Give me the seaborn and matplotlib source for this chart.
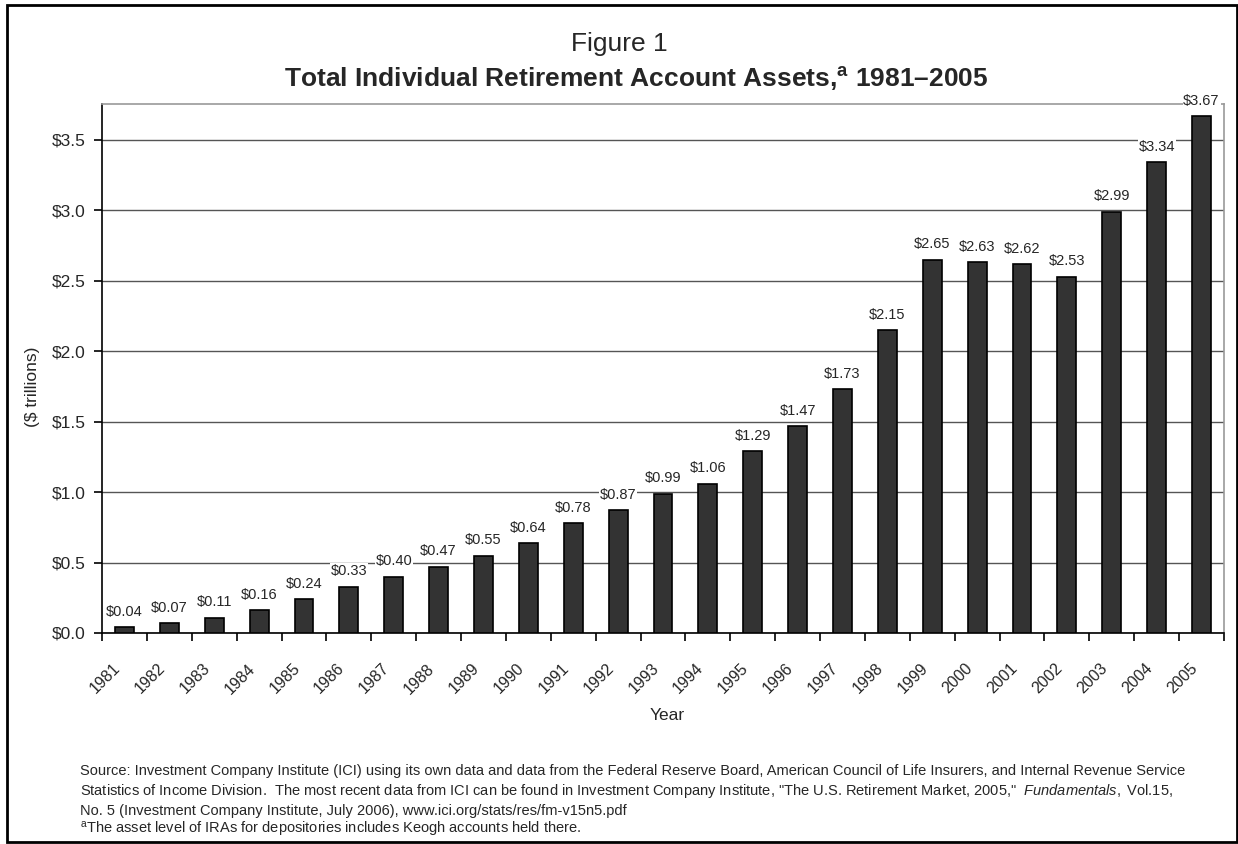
import matplotlib
matplotlib.use("Agg")
import matplotlib.pyplot as plt
import matplotlib.transforms as mtransforms
import seaborn as sns
import pandas as pd
from matplotlib.patches import Rectangle
from matplotlib.ticker import FixedLocator, FuncFormatter

years = [str(y) for y in range(1981, 2006)]
assets = [0.04, 0.07, 0.11, 0.16, 0.24, 0.33, 0.40, 0.47, 0.55, 0.64,
          0.78, 0.87, 0.99, 1.06, 1.29, 1.47, 1.73, 2.15, 2.65, 2.63,
          2.62, 2.53, 2.99, 3.34, 3.67]
y_ticks = [0.0, 0.5, 1.0, 1.5, 2.0, 2.5, 3.0, 3.5]

sns.set_theme(style="white")
plt.rcParams["font.family"] = ["Liberation Sans", "DejaVu Sans"]
plt.rcParams["mathtext.fontset"] = "custom"
plt.rcParams["mathtext.rm"] = "Liberation Sans"
plt.rcParams["mathtext.bf"] = "Liberation Sans:bold"
plt.rcParams["mathtext.it"] = "Liberation Sans:italic"

W, H = 1238, 844
df = pd.DataFrame({"Year": years, "Assets": assets})

fig = plt.figure(figsize=(W / 100, H / 100), dpi=100)
ax_l, ax_r, ax_t, ax_b = 102, 1224, 104, 633
ax = fig.add_axes([ax_l / W, 1 - ax_b / H, (ax_r - ax_l) / W, (ax_b - ax_t) / H])

sns.barplot(data=df, x="Year", y="Assets", color="#333333", width=0.42,
            edgecolor="black", linewidth=1.2, saturation=1, ax=ax, zorder=3)

ax.set_xlim(-0.5, len(years) - 0.5)
ax.set_ylim(0, 3.755)

# horizontal gridlines
ax.yaxis.set_major_locator(FixedLocator(y_ticks))
ax.yaxis.set_major_formatter(FuncFormatter(lambda v, p: f"${v:.1f}"))
ax.grid(axis="y", color="#555555", linewidth=1.0, zorder=0)
ax.grid(axis="x", visible=False)
ax.set_axisbelow(True)

# spines: dark left/bottom, grey frame top/right
for side in ["left", "bottom"]:
    ax.spines[side].set_color("black")
    ax.spines[side].set_linewidth(1.2)
for side in ["top", "right"]:
    ax.spines[side].set_color("#999999")
    ax.spines[side].set_linewidth(1.2)

# category-boundary tick marks on x, labels centred on bars
ax.set_xticks(range(len(years)))
ax.set_xticklabels(years, rotation=45, ha="right", rotation_mode="anchor", fontsize=11.5)
ax.set_xticks([i - 0.5 for i in range(len(years) + 1)], minor=True)
ax.tick_params(axis="x", which="major", length=0, pad=20)
ax.tick_params(axis="x", which="minor", length=6, width=1.2, color="black", direction="out", bottom=True)
ax.tick_params(axis="y", which="major", length=6, width=1.2, color="black", direction="out",
               left=True, labelsize=12.5, pad=6)
shift = mtransforms.ScaledTranslation(-12 / 100, 0, fig.dpi_scale_trans)
for lbl in ax.get_xticklabels():
    lbl.set_transform(lbl.get_transform() + shift)

ax.set_xlabel("Year", fontsize=12.5)
ax.xaxis.set_label_coords((667 - ax_l) / (ax_r - ax_l), (ax_b - 708) / (ax_b - ax_t))
ax.set_ylabel("($ trillions)", fontsize=12.5)
ax.yaxis.set_label_coords((40 - ax_l) / (ax_r - ax_l), (ax_b - 387) / (ax_b - ax_t))

# value labels on top of each bar
for i, v in enumerate(assets):
    ax.annotate(f"${v:.2f}", xy=(i, v), xytext=(0, 6), textcoords="offset points",
                ha="center", va="bottom", fontsize=10.5, clip_on=False, zorder=5,
                bbox=dict(boxstyle="square,pad=0.05", facecolor="white", edgecolor="none"))

# titles
fig.text(619 / W, 1 - 51 / H, "Figure 1", ha="center", va="baseline", fontsize=19)
fig.text(988 / W, 1 - 87 / H,
         r"Total Individual Retirement Account Assets,$^{\mathbf{a}}$ 1981–2005",
         ha="right", va="baseline", fontsize=19, fontweight="bold")

# source notes
fs = 10.5
x0 = 80 / W
fig.text(x0, 1 - 775 / H,
         "Source: Investment Company Institute (ICI) using its own data and data from the Federal Reserve Board, "
         "American Council of Life Insurers, and Internal Revenue Service",
         ha="left", va="baseline", fontsize=fs)
fig.text(x0, 1 - 795 / H,
         "Statistics of Income Division.  The most recent data from ICI can be found in Investment Company Institute, "
         "\"The U.S. Retirement Market, 2005,\"  $\\mathit{Fundamentals,}$ Vol.15,",
         ha="left", va="baseline", fontsize=fs)
fig.text(x0, 1 - 815 / H,
         "No. 5 (Investment Company Institute, July 2006), www.ici.org/stats/res/fm-v15n5.pdf",
         ha="left", va="baseline", fontsize=fs)
fig.text(x0, 1 - 834 / H,
         r"$^{\mathrm{a}}$The asset level of IRAs for depositories includes Keogh accounts held there.",
         ha="left", va="baseline", fontsize=fs)

# outer frame
fig.patches.append(Rectangle((7 / W, 1 - 842 / H), (1236.5 - 7) / W, (842 - 5) / H,
                             transform=fig.transFigure, fill=False, edgecolor="black",
                             linewidth=2, clip_on=False))

fig.savefig("out.png", dpi=100)
